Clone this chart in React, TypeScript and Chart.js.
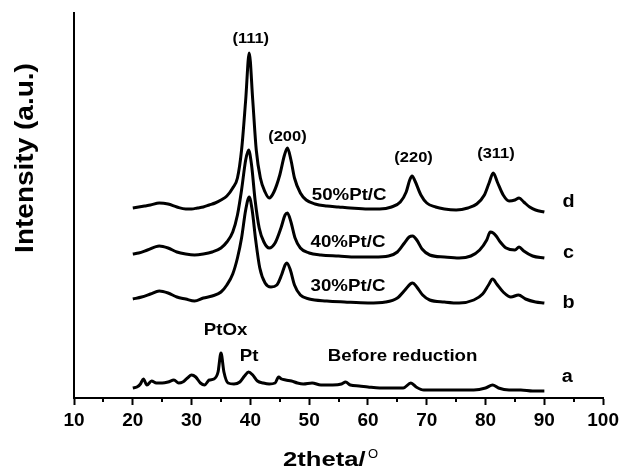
import React, { useEffect, useRef } from "react";
import { Chart, registerables } from "chart.js";

Chart.register(...registerables);

// 2theta tick labels
const X_MIN = 10;
const X_MAX = 100;
const X_STEP = 10;
const MINOR_TICKS = [15, 25, 35, 45, 55, 65, 75, 85, 95];

// curve d : 50%Pt/C
const THETA_D = [20, 21, 22, 23, 24.5, 26, 27.5, 29, 30, 31, 32, 33, 34, 35, 36, 37, 37.8, 38.5, 39.2, 39.8, 40.4, 41, 41.7, 42.5, 43.2, 44, 45, 45.8, 46.3, 46.9, 47.5, 48.5, 49.5, 51, 53, 55, 57, 60, 62, 64, 65.5, 66.5, 67.1, 67.5, 68, 69, 70, 71.5, 73, 75, 77, 78.5, 79.8, 80.6, 81.3, 82, 83, 84, 85, 85.7, 86.5, 87.5, 88.5, 90];
const INT_D = [190, 191, 192, 193, 195, 194, 191, 189, 189, 190, 191, 193, 195, 198, 202, 210, 220, 248, 298, 345, 298, 248, 220, 206, 200, 206, 223, 243, 250, 238, 220, 205, 198, 194, 192, 191, 190, 189, 189, 191, 196, 206, 218, 222, 217, 203, 195, 191, 189, 188, 190, 194, 203, 215, 225, 216, 203, 197, 198, 200, 196, 191, 188, 186];

// curve c : 40%Pt/C
const THETA_C = [20, 21, 22.5, 24.5, 26, 27.5, 29, 30.5, 32, 33.5, 35, 36, 37, 37.8, 38.5, 39.2, 39.7, 40.2, 40.8, 41.5, 42.3, 43.2, 44.2, 45.2, 45.9, 46.3, 46.9, 47.6, 48.5, 50, 52, 55, 58, 61, 63.5, 65, 66.2, 67, 67.6, 68.3, 69.2, 70.5, 73, 75.5, 77.5, 79, 80.2, 80.8, 81.3, 81.8, 82.5, 83.5, 85, 85.7, 86.5, 88, 90];
const INT_C = [144, 145, 148, 152, 150, 146, 144, 143, 144, 146, 150, 156, 166, 183, 208, 238, 248, 233, 198, 170, 156, 150, 155, 170, 183, 185, 176, 160, 150, 145, 143, 142, 141, 141, 142, 146, 155, 161, 162, 158, 149, 143, 141, 140, 142, 148, 158, 166, 165, 162, 156, 150, 148, 151, 147, 142, 140];

// curve b : 30%Pt/C
const THETA_B = [20, 21.5, 23, 24.5, 26, 27.5, 29, 30.5, 32, 33.5, 35, 36, 37, 37.8, 38.5, 39.2, 39.8, 40.3, 40.9, 41.6, 42.5, 43.5, 44.5, 45.3, 45.9, 46.2, 46.8, 47.5, 48.5, 50, 53, 56, 60, 63, 65, 66.3, 67.2, 67.6, 68.3, 69.3, 70.5, 73, 75.5, 78, 79.5, 80.5, 81.2, 81.9, 83, 84.3, 85.6, 86.8, 88.5, 90];
const INT_B = [99, 101, 104, 107, 105, 101, 99, 97, 100, 102, 106, 113, 124, 140, 160, 188, 201, 188, 158, 130, 115, 111, 113, 123, 133, 135, 128, 113, 103, 99, 97, 96, 95, 96, 100, 108, 114, 115, 111, 103, 98, 96, 95, 98, 104, 113, 119, 114, 106, 101, 103, 99, 96, 95];

// curve a : before reduction
const THETA_A = [20, 20.7, 21.3, 21.8, 22.4, 23.2, 24, 25, 26, 27, 27.8, 28.5, 29.3, 30, 30.7, 31.5, 32.2, 33, 33.8, 34.5, 35, 35.5, 36.2, 37.2, 38.2, 39, 39.7, 40.4, 41.2, 42.2, 43.2, 44.2, 44.8, 45.3, 46, 47, 48, 49, 50.5, 52, 54, 55.5, 56.2, 57, 58.5, 60, 62, 64, 66, 67.3, 68.2, 69.5, 72, 75, 78, 80, 81.2, 82.2, 84, 86, 88, 90];
const INT_A = [10, 11, 14, 19, 13, 17, 15, 15, 16, 18, 15, 16, 20, 23, 21, 15, 13, 18, 19, 26, 45, 26, 15, 14, 16, 22, 26, 23, 17, 15, 14, 15, 21, 19, 18, 17, 15, 14, 15, 13, 13, 14, 16, 13, 12, 11, 10, 10, 10, 15, 11, 8, 8, 8, 8, 10, 13, 10, 8, 8, 7, 7];

const FONT = "'Liberation Sans', Arial, Helvetica, sans-serif";

type Lbl = { text: string; x: number; y: number; size: number; bold: boolean };
const ANNOTATIONS: Lbl[] = [
  { text: "(111)", x: 40.06, y: 359, size: 15, bold: true },
  { text: "(200)", x: 46.3, y: 261, size: 15, bold: true },
  { text: "(220)", x: 67.75, y: 240, size: 15, bold: true },
  { text: "(311)", x: 81.77, y: 244, size: 15, bold: true },
  { text: "50%Pt/C", x: 56.8, y: 203, size: 17, bold: true },
  { text: "40%Pt/C", x: 56.6, y: 156, size: 17, bold: true },
  { text: "30%Pt/C", x: 56.6, y: 112, size: 17, bold: true },
  { text: "PtOx", x: 35.8, y: 68, size: 17, bold: true },
  { text: "Pt", x: 39.8, y: 42, size: 17, bold: true },
  { text: "Before reduction", x: 65.9, y: 42, size: 17, bold: true },
  { text: "d", x: 94.1, y: 196, size: 18, bold: true },
  { text: "c", x: 94.1, y: 144.5, size: 18, bold: true },
  { text: "b", x: 94.1, y: 94.5, size: 18, bold: true },
  { text: "a", x: 93.9, y: 21, size: 18, bold: true },
];

function toPoints(xs: number[], ys: number[]) {
  return xs.map((x, i) => ({ x, y: ys[i] }));
}

const textPlugin = {
  id: "xrdText",
  afterDraw(chart: any) {
    const ctx: CanvasRenderingContext2D = chart.ctx;
    const xs = chart.scales.x;
    const ys = chart.scales.y;
    ctx.save();
    ctx.fillStyle = "#000";
    // minor ticks
    ctx.strokeStyle = "#000";
    ctx.lineWidth = 2;
    const bottom = chart.chartArea.bottom;
    MINOR_TICKS.forEach((v) => {
      const px = Math.round(xs.getPixelForValue(v));
      ctx.beginPath();
      ctx.moveTo(px, bottom);
      ctx.lineTo(px, bottom + 4);
      ctx.stroke();
    });
    // annotations
    ANNOTATIONS.forEach((a) => {
      const px = xs.getPixelForValue(a.x);
      const py = ys.getPixelForValue(a.y);
      ctx.save();
      ctx.translate(px, py);
      ctx.scale(1.1, 1);
      ctx.font = `${a.bold ? "bold " : ""}${a.size}px ${FONT}`;
      ctx.textAlign = "center";
      ctx.textBaseline = "middle";
      ctx.fillText(a.text, 0, 0);
      ctx.restore();
    });
    // y title
    ctx.save();
    ctx.translate(33, 158);
    ctx.rotate(-Math.PI / 2);
    ctx.scale(1.12, 1);
    ctx.font = `bold 25px ${FONT}`;
    ctx.textAlign = "center";
    ctx.textBaseline = "alphabetic";
    ctx.fillText("Intensity (a.u.)", 0, 0);
    ctx.restore();
    // x title
    ctx.save();
    ctx.translate(283, 466);
    ctx.scale(1.22, 1);
    ctx.font = `bold 21px ${FONT}`;
    ctx.textAlign = "left";
    ctx.textBaseline = "alphabetic";
    ctx.fillText("2theta/", 0, 0);
    ctx.restore();
    ctx.font = `13px ${FONT}`;
    ctx.textAlign = "left";
    ctx.textBaseline = "alphabetic";
    ctx.fillText("O", 368, 458);
    ctx.restore();
  },
};

export default function App() {
  const ref = useRef<HTMLCanvasElement | null>(null);
  useEffect(() => {
    if (!ref.current) return;
    const lineStyle = {
      borderColor: "#000",
      borderWidth: 3,
      pointRadius: 0,
      fill: false,
      cubicInterpolationMode: "monotone" as const,
    };
    const chart = new Chart(ref.current, {
      type: "line",
      data: {
        datasets: [
          { label: "d", data: toPoints(THETA_D, INT_D), ...lineStyle },
          { label: "c", data: toPoints(THETA_C, INT_C), ...lineStyle },
          { label: "b", data: toPoints(THETA_B, INT_B), ...lineStyle },
          { label: "a", data: toPoints(THETA_A, INT_A), ...lineStyle },
        ],
      },
      options: {
        animation: false,
        responsive: false,
        devicePixelRatio: 1,
        layout: { padding: { top: 13, right: 16, left: 0, bottom: 0 } },
        plugins: { legend: { display: false }, tooltip: { enabled: false } },
        scales: {
          x: {
            type: "linear",
            min: X_MIN,
            max: X_MAX,
            afterFit: (s: any) => {
              s.height = 78;
            },
            ticks: {
              stepSize: X_STEP,
              color: "#000",
              padding: 4,
              maxRotation: 0,
              font: { family: FONT, size: 19, weight: "bold" },
            },
            grid: {
              display: true,
              drawOnChartArea: false,
              drawTicks: true,
              tickLength: 7,
              tickColor: "#000",
              tickWidth: 2,
            },
            border: { display: true, color: "#000", width: 2 },
          },
          y: {
            type: "linear",
            min: 0,
            max: 385,
            afterFit: (s: any) => {
              s.width = 74;
            },
            ticks: { display: false },
            grid: { display: false },
            border: { display: true, color: "#000", width: 2 },
          },
        },
      },
      plugins: [textPlugin],
    });
    return () => chart.destroy();
  }, []);
  return (
    <div style={{ position: "absolute", left: 0, top: 0, width: 623, height: 476, background: "#fff" }}>
      <canvas ref={ref} width={623} height={476} />
    </div>
  );
}
